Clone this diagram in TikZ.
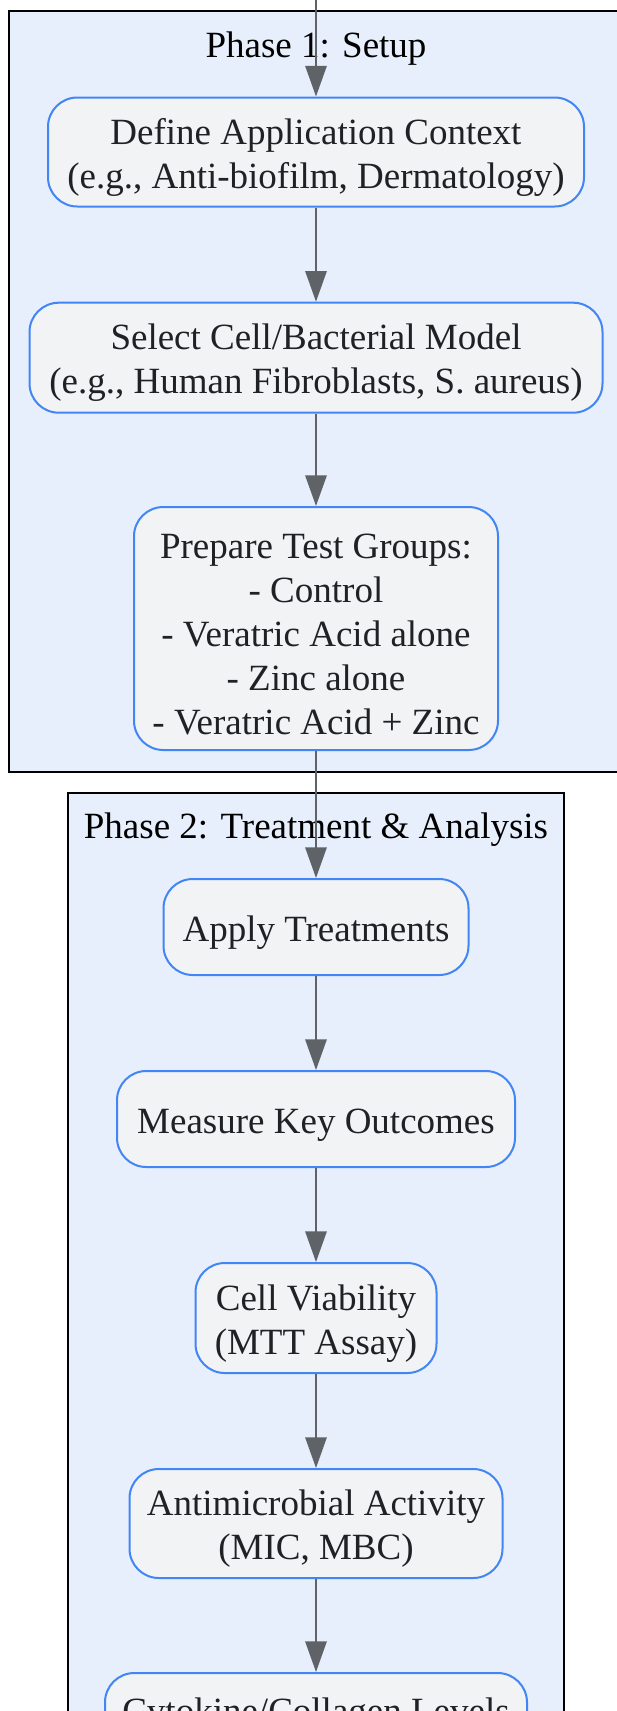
\documentclass[tikz,border=0pt]{standalone}
\usepackage{fontspec}
\setmainfont{Liberation Serif}
\usepackage{xcolor}
\usepackage{tikz}
\usetikzlibrary{arrows.meta}
\definecolor{clusterblue}{HTML}{E8EFFC}
\definecolor{stepgray}{HTML}{F1F3F5}
\definecolor{borderblue}{HTML}{4285F4}
\definecolor{flowgray}{HTML}{5F6368}
\definecolor{textdark}{HTML}{202124}
\newcommand{\toplift}{\rule{0pt}{27pt}}

\begin{document}
\begin{tikzpicture}[x=0.75pt, y=-0.75pt,
    >={Triangle[length=23pt, width=16pt]},
    phasebox/.style={draw=black, fill=clusterblue, line width=1.5pt},
    phasetitle/.style={anchor=base, text=black, font=\fontsize{27.75}{33}\selectfont},
    stepbox/.style={draw=borderblue, fill=stepgray, line width=1.5pt, rounded corners=22pt, align=center, inner sep=0pt, text=textdark, font=\fontsize{27.75}{33}\selectfont},
    flow/.style={->, flowgray, line width=1.5pt}]
    \useasboundingbox (0,0) rectangle (617,1711);
    \clip (0,0) rectangle (617,1711);

    % Phase boxes
    \draw[phasebox] (8.7,11) rectangle (623,771.5);
    \draw[phasebox] (68,792.5) rectangle (564,1760);
    \node[phasetitle] (phase1) at (316,57) {Phase 1: Setup};
    \node[phasetitle] (phase2) at (316,838) {Phase 2: Treatment \& Analysis};

    % Setup steps
    \node[stepbox, minimum width=402pt, minimum height=81.75pt] (context) at (316,152) {\toplift Define Application Context\\(e.g., Anti-biofilm, Dermatology)};
    \node[stepbox, minimum width=429.75pt, minimum height=82.5pt] (model) at (316,357.7) {\toplift Select Cell/Bacterial Model\\(e.g., Human Fibroblasts, S. aureus)};
    \node[stepbox, minimum width=273pt, minimum height=182.25pt] (groups) at (316,628.5) {\toplift Prepare Test Groups:\\- Control\\- Veratric Acid alone\\- Zinc alone\\- Veratric Acid + Zinc};

    % Treatment & analysis steps
    \node[stepbox, minimum width=228.75pt, minimum height=72pt] (apply) at (316,927) {\toplift Apply Treatments};
    \node[stepbox, minimum width=298.5pt, minimum height=72pt] (measure) at (316,1119) {\toplift Measure Key Outcomes};
    \node[stepbox, minimum width=180.75pt, minimum height=82.5pt] (viability) at (316,1318) {\toplift Cell Viability\\(MTT Assay)};
    \node[stepbox, minimum width=279.75pt, minimum height=81.75pt] (antimicro) at (316,1523.5) {\toplift Antimicrobial Activity\\(MIC, MBC)};
    \node[stepbox, minimum width=316.5pt, minimum height=81.75pt] (cytokine) at (316,1727.5) {\toplift Cytokine/Collagen Levels\\~};

    % Flow
    \coordinate (entry) at (316,-10);
    \draw[flow] (entry) -- (context);
    \draw[flow] (context) -- (model);
    \draw[flow] (model) -- (groups);
    \draw[flow] (groups) -- (apply);
    \draw[flow] (apply) -- (measure);
    \draw[flow] (measure) -- (viability);
    \draw[flow] (viability) -- (antimicro);
    \draw[flow] (antimicro) -- (cytokine);
\end{tikzpicture}
\end{document}
